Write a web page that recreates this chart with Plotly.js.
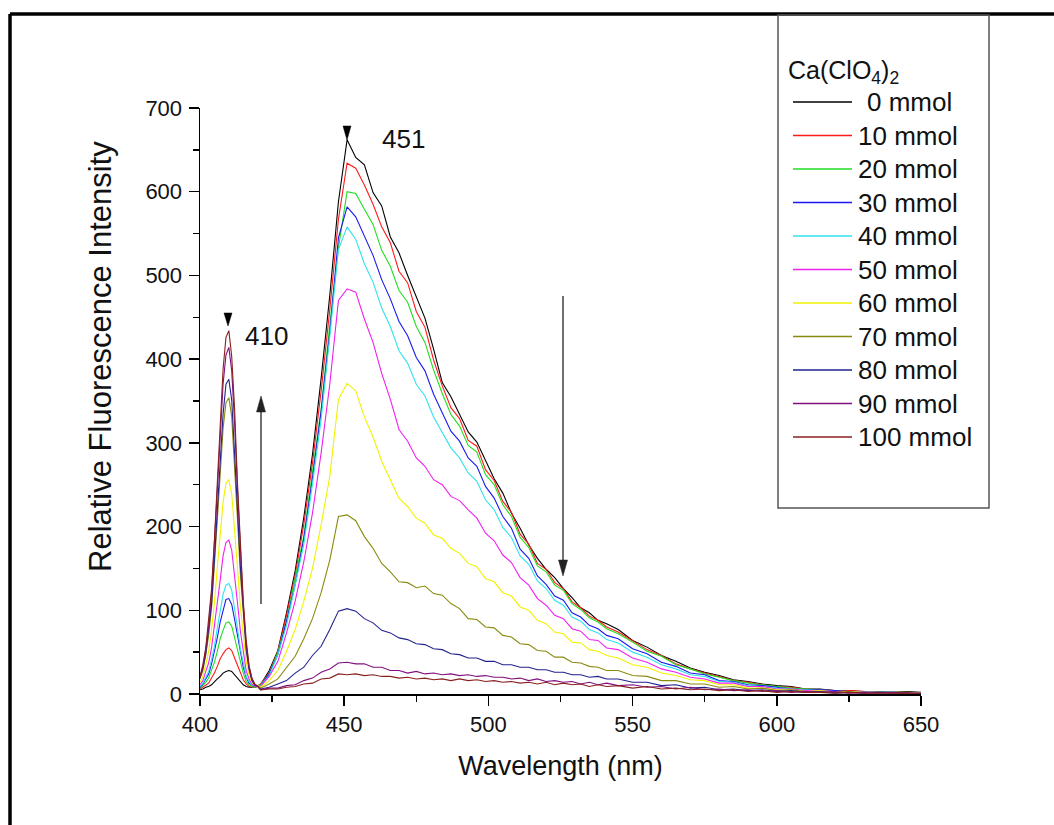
<!DOCTYPE html>
<html>
<head>
<meta charset="utf-8">
<script src="https://cdn.plot.ly/plotly-3.0.1.min.js"></script>
<style>html,body{margin:0;padding:0;background:#fff;}#chart{width:1054px;height:825px;}</style>
</head>
<body>
<div id="chart"></div>
<script>
// ---- data ----
const wavelength = [400,401,402,403,404,405,406,407,408,409,410,411,412,413,414,415,416,417,418,419,420,
421,424,427,430,433,436,439,442,445,448,451,454,457,460,463,466,469,472,475,478,481,484,487,490,493,496,499,502,505,508,511,514,517,520,523,526,529,532,535,538,541,
545,550,555,560,565,570,575,580,585,590,595,600,605,610,615,620,625,630,635,640,645,650];

const seriesNames = ["0 mmol","10 mmol","20 mmol","30 mmol","40 mmol","50 mmol","60 mmol","70 mmol","80 mmol","90 mmol","100 mmol"];
const seriesColors = ["#000000","#ff1a1a","#22dd22","#1a1aee","#30e2ee","#f020f0","#f2f200","#8a8a10","#22228f","#80107f","#8a2020"];

const int0 = [5,6,8,9,11,15,18,21,25,27,28,27,23,19,14,11,9,8,8,8,9,
11,28,52,97,147,211,286,377,476,588,662,
641,632,599,583,546,527,500,475,449,412,372,355,333,313,301,278,257,240,216,198,178,162,149,139,126,115,103,97,88,84,
77,64,56,46,39,31,26,22,17,15,12,10,9,6,6,4,4,3,3,2,3,2];
const int10 = [6,8,11,13,19,25,33,42,48,53,55,52,43,34,24,17,12,9,9,8,10,
12,25,51,94,142,203,276,362,459,567,634,
628,608,585,558,539,505,491,457,438,399,368,342,329,303,296,268,255,230,217,191,179,156,149,133,126,110,103,93,88,80,
74,63,53,46,36,30,25,21,16,14,11,9,8,6,5,4,4,3,2,2,2,1];
const int20 = [7,10,14,19,28,38,51,66,76,85,86,81,67,53,36,25,15,11,9,8,10,
11,24,50,87,138,189,265,340,441,533,600,
598,579,561,530,511,482,468,439,420,387,359,334,320,297,289,262,250,226,212,187,175,153,146,130,124,108,101,91,86,78,
72,62,51,45,35,30,24,20,16,13,11,9,7,6,5,4,3,3,2,2,2,1];
const int30 = [8,12,18,24,36,50,67,86,101,113,114,107,89,69,47,32,20,13,11,9,10,
10,24,47,87,131,186,258,338,432,545,582,
570,546,524,495,472,445,428,402,386,358,336,314,302,282,272,248,234,212,198,173,162,141,131,117,112,97,92,82,78,70,
66,54,48,38,33,25,23,16,15,11,10,8,6,5,5,4,3,3,2,2,1,1];
const int40 = [9,13,20,27,41,57,79,98,119,130,132,124,103,79,54,37,21,15,11,10,10,
10,22,47,82,129,179,251,328,427,531,558,
543,514,492,461,439,410,395,370,356,331,313,294,282,264,254,232,220,199,187,165,155,135,126,112,106,92,87,77,73,65,
61,50,44,35,30,23,21,15,14,10,9,7,6,5,4,3,3,2,2,2,1,1];
const int50 = [11,16,27,37,55,79,109,136,165,181,184,172,143,109,75,50,28,18,12,9,10,
9,21,39,73,111,158,216,288,370,470,484,
480,448,420,383,352,316,302,282,272,256,250,236,231,220,210,192,183,166,157,139,130,114,106,94,90,78,75,65,64,55,
53,43,38,30,26,20,18,13,13,9,9,6,6,4,4,3,3,2,2,1,1,1];
const int60 = [14,21,35,51,76,109,151,190,229,252,256,239,200,151,104,68,39,23,14,10,10,
8,16,28,51,77,111,150,202,260,352,371,
362,331,307,278,257,234,224,210,204,190,186,174,168,156,152,138,134,121,117,104,100,88,84,74,72,62,61,53,51,46,
43,35,32,25,22,17,16,11,11,7,7,5,5,3,4,2,3,2,2,1,1,1];
const int70 = [18,28,47,70,103,150,208,262,317,348,354,331,276,208,143,93,52,29,17,11,10,
7,12,18,31,45,66,90,121,160,212,214,
207,188,174,156,146,134,133,127,129,120,118,108,102,90,89,80,79,70,68,60,59,52,51,44,44,38,37,33,32,28,
28,22,21,16,16,12,12,8,9,6,7,4,5,3,3,2,3,1,2,1,1,1];
const int80 = [19,31,48,76,107,161,219,280,334,370,376,351,293,221,152,98,55,30,16,10,9,
6,8,12,16,25,32,46,57,77,99,102,
99,90,85,76,73,67,65,60,59,54,53,48,47,43,43,39,39,35,35,32,32,29,29,26,26,23,23,20,21,18,
18,14,14,10,11,7,8,5,6,4,5,3,4,2,3,1,2,1,2,1,1,0];
const int90 = [20,32,54,81,120,175,243,306,370,405,414,386,323,243,167,107,60,33,18,11,9,
5,7,7,10,11,16,19,26,30,37,38,
36,36,32,32,28,28,25,27,24,25,23,24,22,23,21,22,20,20,18,19,16,18,15,16,14,15,12,14,11,13,
10,11,8,9,6,8,5,6,4,5,3,4,2,3,2,3,1,2,1,2,1,1];
const int100 = [21,35,55,87,125,184,254,321,388,426,434,403,340,252,177,111,65,34,19,12,9,
5,6,6,8,9,12,13,18,19,24,23,
24,22,23,21,21,19,20,18,19,17,18,16,18,16,17,15,16,14,15,13,14,12,14,11,13,11,12,9,11,9,
10,7,9,6,7,5,6,4,5,3,4,2,3,2,2,1,2,1,1,1,1,0];

const intensities = [int0,int10,int20,int30,int40,int50,int60,int70,int80,int90,int100];

const xTickVals = [400,450,500,550,600,650];
const yTickVals = [0,100,200,300,400,500,600,700];
const xTitle = "Wavelength (nm)";
const yTitle = "Relative Fluorescence Intensity";
const legendTitle = "Ca(ClO<sub>4</sub>)<sub>2</sub>";

// ---- layout helpers (page pixels -> paper coords) ----
const W = 1054, H = 825;
const M = {l:200, r:133, t:108, b:131};
const PW = W - M.l - M.r, PH = H - M.t - M.b;
const px = x => (x - M.l) / PW;
const py = y => (H - M.b - y) / PH;
const pathOf = pts => "M " + pts.map(p => px(p[0]) + "," + py(p[1])).join(" L ") + " Z";

const FONT = "Liberation Sans, Arial, sans-serif";

const traces = intensities.map((vals, i) => ({
  type: "scatter", mode: "lines",
  x: wavelength, y: vals,
  name: seriesNames[i],
  line: {color: seriesColors[i], width: 1.1},
  hoverinfo: "skip"
}));

const shapes = [];
const annotations = [];

// outer frame (top and left edges)
shapes.push({type:"line", xref:"paper", yref:"paper", x0:px(10), x1:px(1054), y0:py(14), y1:py(14), line:{color:"#000", width:3.5}});
shapes.push({type:"line", xref:"paper", yref:"paper", x0:px(10), x1:px(10), y0:py(14), y1:py(825), line:{color:"#000", width:3.5}});

// y-axis title (sits above the plot centre in the reference)
annotations.push({xref:"paper", yref:"paper", x:px(100), y:py(357), xanchor:"center", yanchor:"middle", textangle:-90, text:yTitle, showarrow:false, font:{family:FONT, size:31, color:"#111"}});

// legend box
shapes.push({type:"rect", xref:"paper", yref:"paper", x0:px(778), x1:px(989), y0:py(15), y1:py(508), line:{color:"#555", width:1.5}, fillcolor:"rgba(0,0,0,0)"});
annotations.push({xref:"paper", yref:"paper", x:px(786), y:py(72), xanchor:"left", yanchor:"middle", text:legendTitle, showarrow:false, font:{family:FONT, size:25, color:"#111"}});
seriesNames.forEach((nm, i) => {
  const yy = 102 + 33.5 * i;
  shapes.push({type:"line", xref:"paper", yref:"paper", x0:px(793), x1:px(852), y0:py(yy), y1:py(yy), line:{color:seriesColors[i], width:1.3}});
  const offset = nm.split(" ")[0].length === 1 ? 9 : 0;
  annotations.push({xref:"paper", yref:"paper", x:px(856 + offset), y:py(yy), xanchor:"left", yanchor:"middle", text:nm, showarrow:false, font:{family:FONT, size:26, color:"#111"}});
});

// peak labels
annotations.push({x:423, y:428, xref:"x", yref:"y", text:"410", showarrow:false, xanchor:"center", yanchor:"middle", font:{family:FONT, size:26, color:"#111"}});
annotations.push({x:470.7, y:663, xref:"x", yref:"y", text:"451", showarrow:false, xanchor:"center", yanchor:"middle", font:{family:FONT, size:26, color:"#111"}});

// peak markers (small filled down-triangles)
shapes.push({type:"path", xref:"paper", yref:"paper", path:pathOf([[224,313],[232,313],[228,326]]), fillcolor:"#000", line:{color:"#000", width:0.5}});
shapes.push({type:"path", xref:"paper", yref:"paper", path:pathOf([[343,126],[351,126],[347,140]]), fillcolor:"#000", line:{color:"#000", width:0.5}});

// trend arrows (shaft + filled head)
shapes.push({type:"line", xref:"paper", yref:"paper", x0:px(261), x1:px(261), y0:py(604), y1:py(410), line:{color:"#222", width:1.3}});
shapes.push({type:"path", xref:"paper", yref:"paper", path:pathOf([[261,396],[256.5,412],[265.5,412]]), fillcolor:"#222", line:{color:"#222", width:0.5}});
shapes.push({type:"line", xref:"paper", yref:"paper", x0:px(563), x1:px(563), y0:py(296), y1:py(562), line:{color:"#222", width:1.3}});
shapes.push({type:"path", xref:"paper", yref:"paper", path:pathOf([[563,576],[558.5,560],[567.5,560]]), fillcolor:"#222", line:{color:"#222", width:0.5}});

const axisCommon = {
  showline:true, linecolor:"#000", linewidth:1.5, mirror:false,
  showgrid:false, zeroline:false,
  ticks:"outside", ticklen:10, tickwidth:1.5, tickcolor:"#000",
  tickfont:{family:FONT, size:22, color:"#111"}
};

const layout = {
  width:W, height:H, margin:M,
  paper_bgcolor:"#fff", plot_bgcolor:"#fff",
  showlegend:false,
  font:{family:FONT, color:"#111"},
  xaxis: Object.assign({}, axisCommon, {
    range:[400,650], tickmode:"array", tickvals:xTickVals,
    minor:{dtick:25, tick0:400, ticks:"outside", ticklen:6, tickwidth:1.5, tickcolor:"#000", showgrid:false},
    title:{text:xTitle, font:{family:FONT, size:27, color:"#111"}, standoff:20}
  }),
  yaxis: Object.assign({}, axisCommon, {
    range:[0,700], tickmode:"array", tickvals:yTickVals, ticklabelstandoff:2,
    minor:{dtick:50, tick0:0, ticks:"outside", ticklen:6, tickwidth:1.5, tickcolor:"#000", showgrid:false}
  }),
  shapes: shapes,
  annotations: annotations
};

Plotly.newPlot("chart", traces, layout, {displayModeBar:false, staticPlot:true});
</script>
</body>
</html>
